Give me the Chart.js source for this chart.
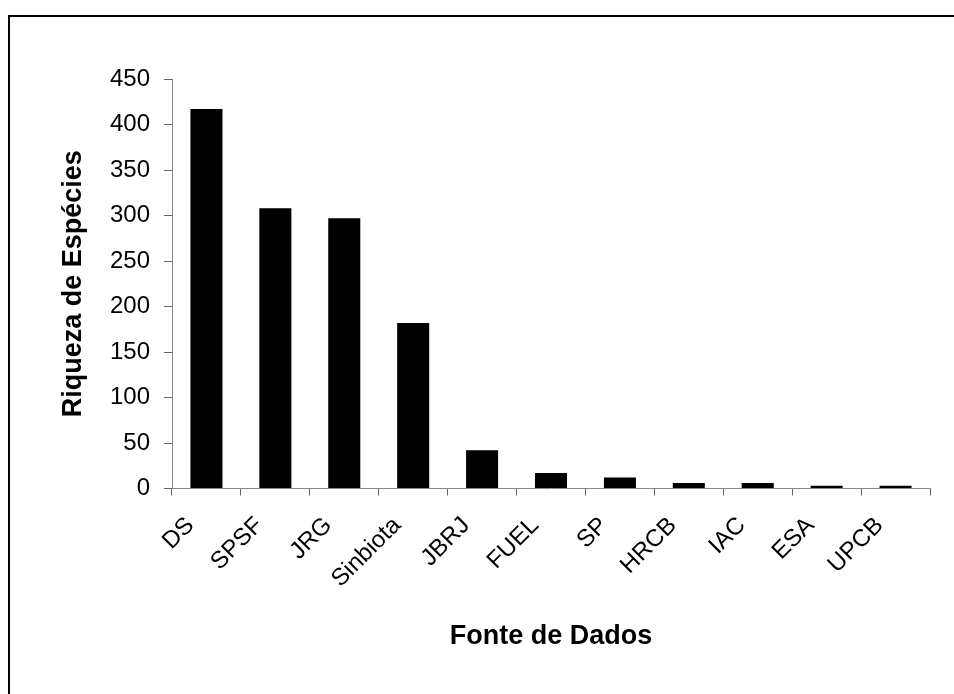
<!DOCTYPE html>
<html>
<head>
<meta charset="utf-8">
<script src="https://cdn.jsdelivr.net/npm/chart.js@4"></script>
<style>
  html, body { margin: 0; padding: 0; background: #fff; overflow: hidden; }
  #wrap { position: relative; width: 954px; height: 694px; }
  #frame { position: absolute; left: 8px; top: 15px; width: 1000px; height: 800px;
           border-top: 2px solid #000; border-left: 2px solid #000; box-sizing: border-box; }
  canvas { position: absolute; left: 0; top: 0; }
</style>
</head>
<body>
<div id="wrap">
  <div id="frame"></div>
  <canvas id="chart" width="954" height="694"></canvas>
</div>
<script>
const categories = ["DS", "SPSF", "JRG", "Sinbiota", "JBRJ", "FUEL", "SP", "HRCB", "IAC", "ESA", "UPCB"];
const riqueza = [417, 308, 297, 182, 42, 17, 12, 6, 6, 3, 3];
const yTicks = [0, 50, 100, 150, 200, 250, 300, 350, 400, 450];

const FONT = "'Liberation Sans', Arial, sans-serif";

document.addEventListener("DOMContentLoaded", function () {
  const ctx = document.getElementById("chart").getContext("2d");
  new Chart(ctx, {
    type: "bar",
    data: {
      labels: categories,
      datasets: [{
        label: "Riqueza de Espécies",
        data: riqueza,
        backgroundColor: "#000",
        barPercentage: 0.465,
        categoryPercentage: 1
      }]
    },
    options: {
      responsive: false,
      animation: false,
      layout: { padding: { left: 0, top: 79, right: 24, bottom: 0 } },
      plugins: { legend: { display: false }, tooltip: { enabled: false } },
      scales: {
        x: {
          grid: { drawOnChartArea: false, offset: true, tickLength: 7, color: "#666" },
          border: { color: "#888", width: 1 },
          ticks: { color: "#000", font: { family: FONT, size: 24 }, minRotation: 45, maxRotation: 45,
                   padding: 16, labelOffset: -16, autoSkip: false },
          title: { display: true, text: "Fonte de Dados", color: "#000",
                   font: { family: FONT, size: 27, weight: "bold" }, padding: { top: 0, bottom: 41 } },
          afterFit: (s) => { s.height = 694 - 488.5; }
        },
        y: {
          min: 0, max: 450,
          afterBuildTicks: (s) => { s.ticks = yTicks.map(v => ({ value: v })); },
          grid: { drawOnChartArea: false, tickLength: 8, color: "#666" },
          border: { color: "#888", width: 1 },
          ticks: { color: "#000", font: { family: FONT, size: 24 }, padding: 14 },
          title: { display: true, text: "Riqueza de Espécies", color: "#000",
                   font: { family: FONT, size: 27, weight: "bold" }, padding: { top: 57, bottom: 0 } },
          afterFit: (s) => { s.width = 172; }
        }
      }
    }
  });
});
</script>
</body>
</html>
